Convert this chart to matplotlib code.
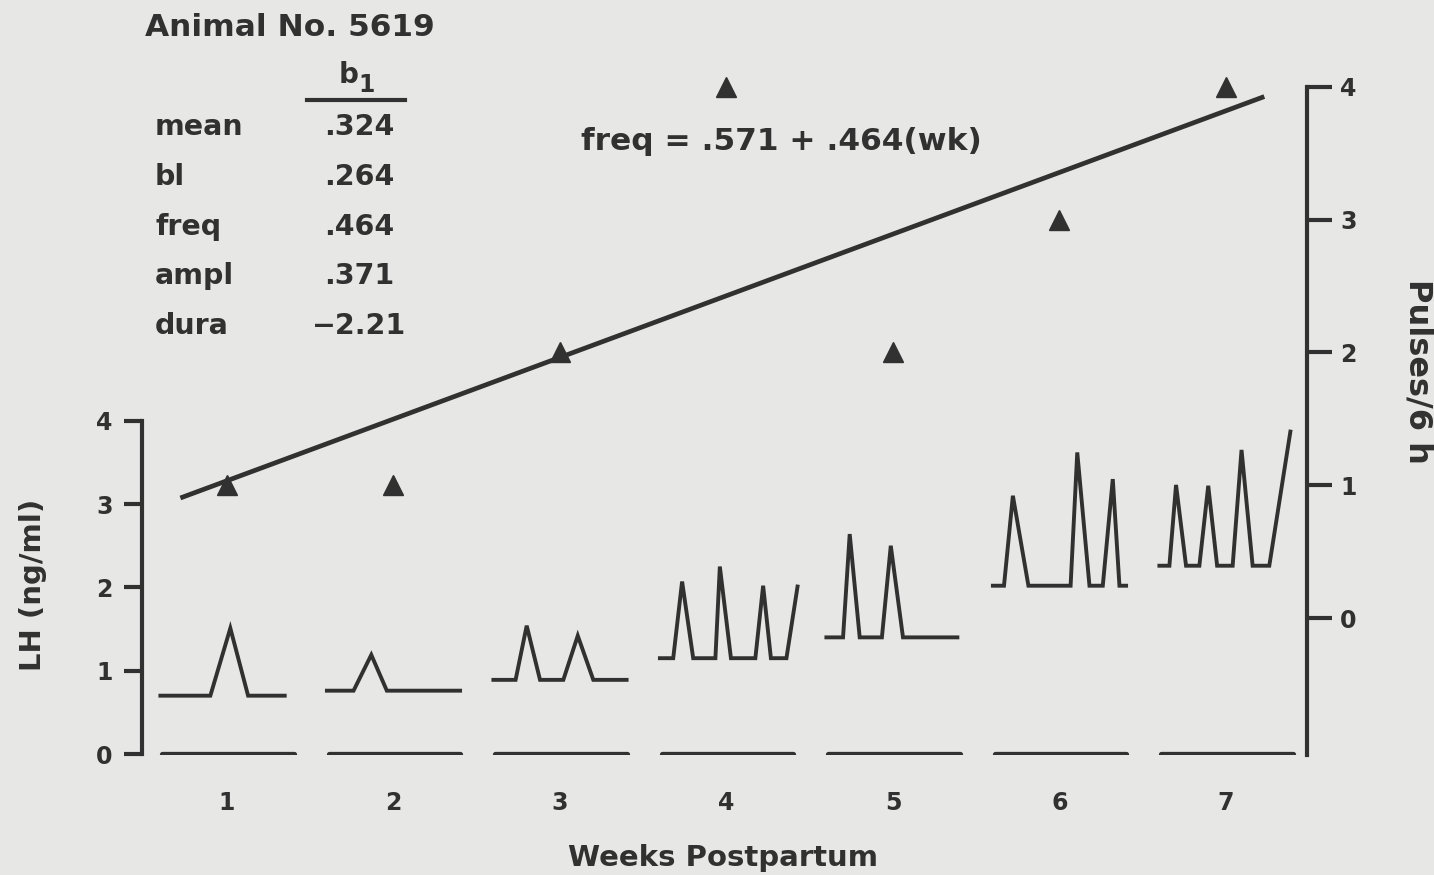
import matplotlib
matplotlib.use('Agg')
from matplotlib import pyplot as plt

# --- data ---
weeks = [1, 2, 3, 4, 5, 6, 7]
week_labels = ['1', '2', '3', '4', '5', '6', '7']
pulses = [1, 1, 2, 4, 2, 3, 4]          # pulses / 6 h
reg_a = 0.571
reg_b = 0.464
reg_from = 0.72
reg_to = 7.23

# LH profiles per week: time within the 6 h window (h) and LH (ng/ml)
hrs_w1 = [0, 2.25, 3.15, 3.95, 5.6]
lh_w1 = [0.70, 0.70, 1.51, 0.70, 0.70]
hrs_w2 = [0, 1.2, 2.0, 2.7, 6.0]
lh_w2 = [0.76, 0.76, 1.19, 0.76, 0.76]
hrs_w3 = [0, 1.0, 1.5, 2.1, 3.15, 3.8, 4.5, 6.0]
lh_w3 = [0.89, 0.89, 1.54, 0.89, 0.89, 1.42, 0.89, 0.89]
hrs_w4 = [0, 0.6, 1.0, 1.5, 2.5, 2.7, 3.2, 4.3, 4.65, 5.0, 5.7, 6.2]
lh_w4 = [1.15, 1.15, 2.07, 1.15, 1.15, 2.25, 1.15, 1.15, 2.02, 1.15, 1.15, 2.01]
hrs_w5 = [0, 0.75, 1.05, 1.5, 2.5, 2.9, 3.45, 5.9]
lh_w5 = [1.40, 1.40, 2.64, 1.40, 1.40, 2.50, 1.40, 1.40]
hrs_w6 = [0, 0.5, 0.9, 1.6, 3.5, 3.8, 4.35, 4.95, 5.4, 5.7, 6.0]
lh_w6 = [2.02, 2.02, 3.10, 2.02, 2.02, 3.62, 2.02, 2.02, 3.30, 2.02, 2.02]
hrs_w7 = [0, 0.45, 0.75, 1.2, 1.8, 2.2, 2.6, 3.3, 3.7, 4.2, 4.95, 5.9]
lh_w7 = [2.26, 2.26, 3.23, 2.26, 2.26, 3.22, 2.26, 2.26, 3.65, 2.26, 2.26, 3.87]

profile_hrs = [hrs_w1, hrs_w2, hrs_w3, hrs_w4, hrs_w5, hrs_w6, hrs_w7]
profile_lh = [lh_w1, lh_w2, lh_w3, lh_w4, lh_w5, lh_w6, lh_w7]

coef_names = ['mean', 'bl', 'freq', 'ampl', 'dura']
coef_values = ['.324', '.264', '.464', '.371', '\u22122.21']

window_h = 6.0
window_w = 0.8   # a 6 h window drawn as 0.8 week wide

ink = '#313131'
paper = '#e7e7e5'
W, H = 1434, 875

plt.rcParams['font.family'] = ['DejaVu Sans']
plt.rcParams['font.weight'] = 'bold'

fig = plt.figure(figsize=(14.34, 8.75), dpi=100)
fig.patch.set_facecolor(paper)

ax = fig.add_axes([142 / W, (875 - 755) / H, (1307 - 142) / W, (755 - 86.7) / H])
ax.set_facecolor('none')
ax.set_xlim(0.4895, 7.4865)
ax.set_ylim(-0.012, 8.01)

# zero lines and LH profiles
for wk, hrs, lh in zip(weeks, profile_hrs, profile_lh):
    xs = [wk + (h / window_h - 0.5) * window_w for h in hrs]
    ax.plot(xs, lh, color=ink, lw=2.8, solid_joinstyle='miter')
    ax.plot([wk - window_w / 2 + 0.01, wk + window_w / 2], [0, 0], color=ink, lw=3.8,
            solid_capstyle='round')

for s in ['top', 'right', 'bottom']:
    ax.spines[s].set_visible(False)
ax.spines['left'].set_bounds(0, 4)
ax.spines['left'].set_linewidth(3)
ax.spines['left'].set_color(ink)
ax.set_yticks([0, 1, 2, 3, 4])
ax.set_yticklabels(['0', '1', '2', '3', '4'])
ax.tick_params(axis='y', direction='out', length=13, width=3, color=ink,
               labelsize=17, labelcolor=ink, pad=8)
ax.set_xticks(weeks)
ax.set_xticklabels(week_labels)
ax.tick_params(axis='x', length=0, labelsize=17, labelcolor=ink, pad=26)

# pulses and regression line on the right axis
ax2 = ax.twinx()
ax2.set_ylim(-1.029, 4)
ax2.plot(weeks, pulses, linestyle='none', marker='^', ms=15, color=ink,
         markeredgecolor=ink, markeredgewidth=1, clip_on=False)
ax2.plot([reg_from, reg_to], [reg_a + reg_b * reg_from, reg_a + reg_b * reg_to],
         color=ink, lw=3.4, solid_capstyle='butt', clip_on=False)
for s in ['top', 'left', 'bottom']:
    ax2.spines[s].set_visible(False)
ax2.spines['right'].set_linewidth(3)
ax2.spines['right'].set_color(ink)
ax2.set_yticks([0, 1, 2, 3, 4])
ax2.set_yticklabels(['0', '1', '2', '3', '4'])
ax2.tick_params(axis='y', direction='out', length=18, width=3, color=ink,
                labelsize=17, labelcolor=ink, pad=6)

# axis titles
fig.text(33 / W, 1 - 585 / H, 'LH (ng/ml)', rotation=90, ha='center', va='center',
         fontsize=21, color=ink)
fig.text(1418 / W, 1 - 371 / H, 'Pulses/6 h', rotation=-90, ha='center', va='center',
         fontsize=23, color=ink)
fig.text(723 / W, 1 - 858 / H, 'Weeks Postpartum', ha='center', va='center',
         fontsize=21, color=ink)

# regression equation
fig.text(781 / W, 1 - 150 / H, 'freq = .571 + .464(wk)', ha='center', va='baseline',
         fontsize=22.5, color=ink)

# coefficient table
fig.text(145 / W, 1 - 36 / H, 'Animal No. 5619', ha='left', va='baseline',
         fontsize=22.5, color=ink)
fig.text(349 / W, 1 - 83 / H, 'b', ha='center', va='baseline', fontsize=20, color=ink)
fig.text(367 / W, 1 - 92 / H, '1', ha='center', va='baseline', fontsize=17, color=ink)
fig.add_artist(plt.Line2D([307 / W, 405 / W], [1 - 100 / H, 1 - 100 / H],
                          color=ink, lw=3))
baselines = [135, 185, 235, 284, 334]
for name, val, yb in zip(coef_names, coef_values, baselines):
    fig.text(155 / W, 1 - yb / H, name, ha='left', va='baseline', fontsize=20.5, color=ink)
    fig.text(359 / W, 1 - yb / H, val, ha='center', va='baseline', fontsize=20.5, color=ink)

fig.savefig('out.png', dpi=100, facecolor=paper)
